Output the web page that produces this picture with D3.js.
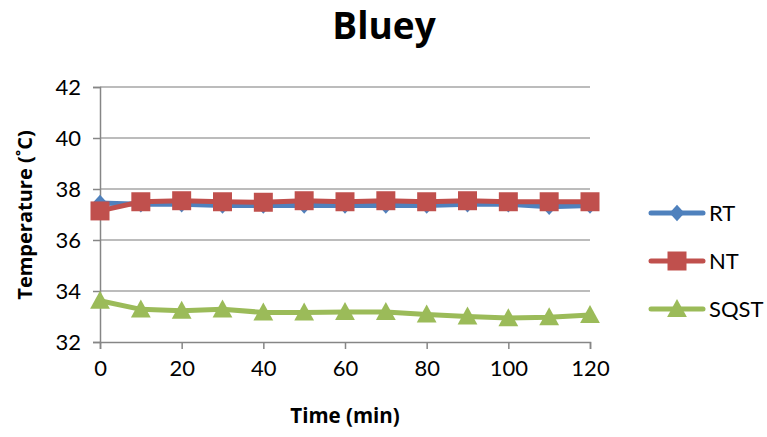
<!DOCTYPE html>
<html>
<head>
<meta charset="utf-8">
<script src="https://cdn.jsdelivr.net/npm/d3@7"></script>
<style>
  html, body { margin: 0; padding: 0; background: #fff; }
  svg { display: block; }
</style>
</head>
<body>
<svg id="chart" width="767" height="437"></svg>
<script>
const times = [0, 10, 20, 30, 40, 50, 60, 70, 80, 90, 100, 110, 120];
const rtValues = [37.45, 37.4, 37.4, 37.35, 37.35, 37.35, 37.35, 37.35, 37.35, 37.4, 37.4, 37.3, 37.35];
const ntValues = [37.14, 37.5, 37.54, 37.5, 37.48, 37.54, 37.5, 37.54, 37.5, 37.54, 37.5, 37.5, 37.5];
const sqstValues = [33.62, 33.28, 33.23, 33.28, 33.16, 33.16, 33.18, 33.18, 33.08, 33.0, 32.94, 32.97, 33.06];
const seriesNames = ["RT", "NT", "SQST"];
const seriesColors = ["#4f81bd", "#c0504d", "#9bbb59"];
const seriesShapes = ["diamond", "square", "triangle"];
const xTicks = [0, 20, 40, 60, 80, 100, 120];
const yTicks = [32, 34, 36, 38, 40, 42];
const chartTitle = "Bluey";
const xTitle = "Time (min)";
const yTitle = "Temperature (˚C)";

const svg = d3.select("#chart");
const pLeft = 100, pRight = 590, pTop = 87, pBottom = 342;
const tickFont = "Lato, sans-serif";
const titleFont = "'Open Sans', sans-serif";

const x = d3.scaleLinear().domain([0, 120]).range([pLeft, pRight]);
const y = d3.scaleLinear().domain([32, 42]).range([pBottom, pTop]);

// gridlines
svg.append("g").selectAll("line").data(yTicks.filter(d => d !== 32)).join("line")
  .attr("x1", pLeft).attr("x2", pRight)
  .attr("y1", d => y(d)).attr("y2", d => y(d))
  .attr("stroke", "#a6a6a6").attr("stroke-width", 1.3);

// y axis
const yAxis = svg.append("g").attr("transform", `translate(${pLeft},0)`)
  .call(d3.axisLeft(y).tickValues(yTicks).tickSize(7).tickPadding(12).tickFormat(d3.format("d")));
yAxis.select(".domain").attr("stroke", "#868686").attr("stroke-width", 1.5);
yAxis.selectAll(".tick line").attr("stroke", "#868686").attr("stroke-width", 1.5);
yAxis.selectAll(".tick text").style("font-size", "22px").style("font-family", tickFont).attr("fill", "#000");

// x axis
const xAxis = svg.append("g").attr("transform", `translate(0,${pBottom})`)
  .call(d3.axisBottom(x).tickValues(xTicks).tickSize(7).tickPadding(11).tickFormat(d3.format("d")));
xAxis.select(".domain").attr("stroke", "#868686").attr("stroke-width", 1.5);
xAxis.selectAll(".tick line").attr("stroke", "#868686").attr("stroke-width", 1.5);
xAxis.selectAll(".tick text").style("font-size", "22px").style("font-family", tickFont).attr("fill", "#000");

function shapePath(shape, s) {
  if (shape === "diamond") return `M0,${-s*0.55}L${s*0.5},0L0,${s*0.55}L${-s*0.5},0Z`;
  if (shape === "square") return `M${-s/2},${-s/2}H${s/2}V${s/2}H${-s/2}Z`;
  return `M0,${-s*0.55}L${s*0.55},${s*0.45}L${-s*0.55},${s*0.45}Z`;
}
const markerSizes = {diamond: 15, square: 19, triangle: 18};

const allSeries = [rtValues, ntValues, sqstValues];
const line = d3.line().x((d, i) => x(times[i])).y(d => y(d));

allSeries.forEach((vals, k) => {
  const g = svg.append("g");
  g.append("path").datum(vals).attr("d", line)
    .attr("fill", "none").attr("stroke", seriesColors[k]).attr("stroke-width", 5)
    .attr("stroke-linejoin", "round").attr("stroke-linecap", "round");
  g.selectAll("path.m").data(vals).join("path").attr("class", "m")
    .attr("transform", (d, i) => `translate(${x(times[i])},${y(d)})`)
    .attr("d", shapePath(seriesShapes[k], markerSizes[seriesShapes[k]]))
    .attr("fill", seriesColors[k]);
});

// legend
const legendY = [213, 261, 309];
seriesNames.forEach((name, k) => {
  const g = svg.append("g").attr("transform", `translate(0,${legendY[k]})`);
  g.append("line").attr("x1", 651).attr("x2", 703).attr("y1", 0).attr("y2", 0)
    .attr("stroke", seriesColors[k]).attr("stroke-width", 5).attr("stroke-linecap", "round");
  g.append("path").attr("transform", "translate(677,0)")
    .attr("d", shapePath(seriesShapes[k], markerSizes[seriesShapes[k]]))
    .attr("fill", seriesColors[k]);
  g.append("text").attr("x", 709).attr("y", 0).attr("dy", "0.36em")
    .style("font-family", tickFont).style("font-size", "22px").attr("fill", "#000").text(name);
});

// titles
svg.append("text").attr("x", 384).attr("y", 39).attr("text-anchor", "middle")
  .style("font-family", titleFont).style("font-size", "37px").style("font-weight", "bold")
  .attr("fill", "#000").text(chartTitle);
svg.append("text").attr("x", 345).attr("y", 423).attr("text-anchor", "middle")
  .style("font-family", titleFont).style("font-size", "20.5px").style("font-weight", "bold")
  .attr("fill", "#000").text(xTitle);
svg.append("text").attr("transform", "translate(32,215) rotate(-90)").attr("text-anchor", "middle")
  .style("font-family", titleFont).style("font-size", "20px").style("font-weight", "bold")
  .attr("fill", "#000").text(yTitle);
</script>
</body>
</html>
